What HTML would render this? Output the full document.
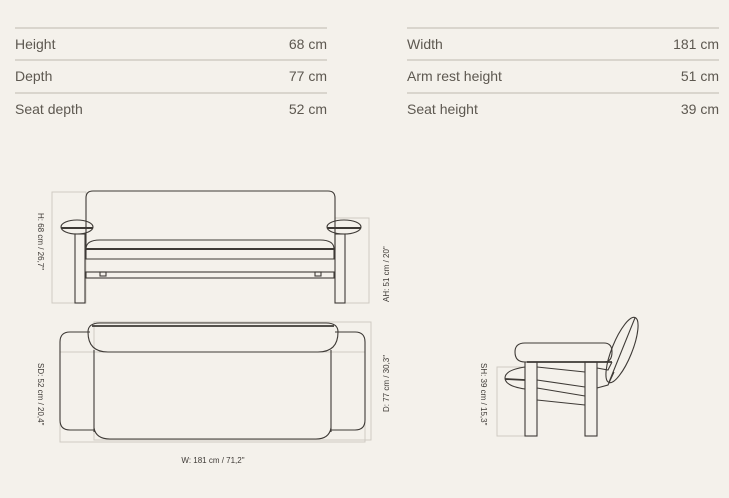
<!DOCTYPE html>
<html><head><style>
body{margin:0;width:729px;height:498px;background:#f4f1eb;overflow:hidden;font-family:"Liberation Sans",sans-serif}
.t{position:absolute;font-size:14px;color:#5d5850}
</style></head><body>
<svg width="729" height="498" style="position:absolute;left:0;top:0">
<g stroke="#d9d5cd" stroke-width="2">
<line x1="15" y1="28" x2="327" y2="28"/><line x1="15" y1="60" x2="327" y2="60"/><line x1="15" y1="93" x2="327" y2="93"/>
<line x1="407" y1="28" x2="719" y2="28"/><line x1="407" y1="60" x2="719" y2="60"/><line x1="407" y1="93" x2="719" y2="93"/>
</g>
<g fill="none" stroke="#cfcbc3" stroke-width="1">
<rect x="52" y="192" width="34" height="111"/>
<rect x="335" y="218" width="34" height="85"/>
<rect x="60" y="352" width="305" height="90"/>
<rect x="94" y="322" width="277" height="118"/>
<rect x="497" y="367" width="28" height="69"/>
</g>
<g fill="none" stroke="#3e3a36" stroke-width="1.1">
<path d="M86 250 V198 Q86 191 93 191 H328 Q335 191 335 198 V250"/>
<ellipse cx="77" cy="227" rx="16" ry="7"/><line x1="61" y1="228" x2="93" y2="228" stroke-width="2"/>
<ellipse cx="344" cy="227" rx="17" ry="7"/><line x1="327" y1="228" x2="361" y2="228" stroke-width="2"/>
<rect x="75" y="234" width="10" height="69"/><rect x="335" y="234" width="10" height="69"/>
<path d="M86 249 Q86 240 100 240 H320 Q334 240 334 249"/>
<line x1="86" y1="249" x2="334" y2="249" stroke-width="2"/>
<path d="M86 249 V259 H334 V249"/>
<rect x="86" y="272" width="248" height="6"/>
<rect x="100" y="272" width="6" height="4"/><rect x="315" y="272" width="6" height="4"/>
<path d="M90 332 H70 Q60 332 60 342 V420 Q60 430 70 430 H94"/>
<path d="M335 332 H355 Q365 332 365 342 V420 Q365 430 355 430 H331"/>
<path d="M94 432 V350 M331 350 V432"/>
<path d="M88 332 Q88 323 100 323 H326 Q338 323 338 332 Q338 352 318 352 H108 Q88 352 88 332Z"/>
<line x1="92" y1="326" x2="334" y2="326" stroke-width="1.8"/>
<path d="M94 428 Q96 439 110 439 H316 Q329 439 331 428"/>
<g transform="rotate(22 622 350)"><ellipse cx="622" cy="350" rx="10" ry="35"/><line x1="622" y1="315" x2="622" y2="385"/></g>
<path d="M515 352 Q515 343 525 343 H604 Q612 343 612 352 Q612 362 604 362 H525 Q515 362 515 352Z"/>
<line x1="527" y1="362" x2="612" y2="362" stroke-width="1.8"/>
<rect x="525" y="362" width="12" height="74"/><rect x="585" y="362" width="12" height="74"/>
<path d="M525 367 Q505 370 505 378 Q505 386 525 389"/>
<line x1="505" y1="379" x2="525" y2="380" stroke-width="1.8"/>
<path d="M537 367 L585 372 M537 380 L585 387 M537 388 L585 396 M537 400 L585 405"/>
<path d="M597 368 L608 370 L612 362 M597 388 L608 385 L614 372"/>
</g>
<g font-size="8" fill="#3e3a36" font-family="Liberation Sans,sans-serif">
<text transform="translate(38,213) rotate(90)">H: 68 cm / 26,7"</text>
<text transform="translate(389,302) rotate(-90)">AH: 51 cm / 20"</text>
<text transform="translate(38,363) rotate(90)">SD: 52 cm / 20,4"</text>
<text transform="translate(389,412) rotate(-90)">D: 77 cm / 30,3"</text>
<text x="213" y="463" text-anchor="middle">W: 181 cm / 71,2"</text>
<text transform="translate(481,363) rotate(90)">SH: 39 cm / 15,3"</text>
</g>
</svg>
<div class="t" style="left:15px;top:36px">Height</div><div class="t" style="right:402px;top:36px">68 cm</div>
<div class="t" style="left:15px;top:68px">Depth</div><div class="t" style="right:402px;top:68px">77 cm</div>
<div class="t" style="left:15px;top:101px">Seat depth</div><div class="t" style="right:402px;top:101px">52 cm</div>
<div class="t" style="left:407px;top:36px">Width</div><div class="t" style="right:10px;top:36px">181 cm</div>
<div class="t" style="left:407px;top:68px">Arm rest height</div><div class="t" style="right:10px;top:68px">51 cm</div>
<div class="t" style="left:407px;top:101px">Seat height</div><div class="t" style="right:10px;top:101px">39 cm</div>
</body></html>
